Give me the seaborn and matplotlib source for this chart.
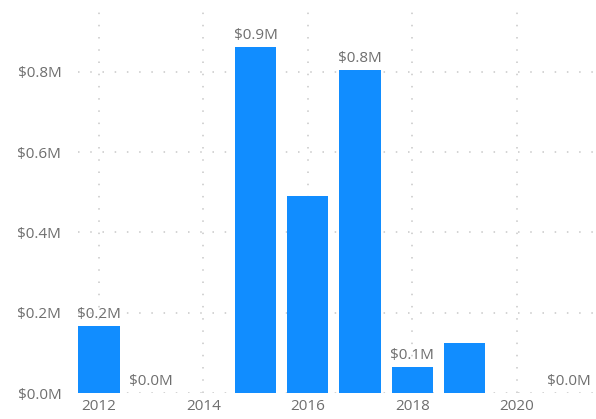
import matplotlib
matplotlib.use("Agg")
import matplotlib.pyplot as plt
import seaborn as sns
import pandas as pd

years = [2012, 2013, 2015, 2016, 2017, 2018, 2019, 2021]
values = [0.167, 0.0, 0.862, 0.491, 0.804, 0.065, 0.125, 0.0]  # $M
labels = ["$0.2M", "$0.0M", "$0.9M", None, "$0.8M", "$0.1M", None, "$0.0M"]
yticks = [0.0, 0.2, 0.4, 0.6, 0.8]
ytick_labels = ["$0.0M", "$0.2M", "$0.4M", "$0.6M", "$0.8M"]
xticks = [2012, 2014, 2016, 2018, 2020]

sns.set_theme(style="white")
plt.rcParams['font.family'] = ['Open Sans', 'DejaVu Sans']

df = pd.DataFrame({"year": years, "value": values})

fig = plt.figure(figsize=(5.96, 4.19), dpi=100)
ax = fig.add_axes([78/596, 1 - 393/419, (596 - 78)/596, (393 - 10)/419])

sns.barplot(data=df, x="year", y="value", native_scale=True, width=0.79,
            color="#118DFF", saturation=1, ax=ax, zorder=3, linewidth=0)

ax.set_xlim(2011.6, 2021.52)
ax.set_ylim(0, 0.954)
ax.set_xticks(xticks)
ax.set_xticklabels([str(x) for x in xticks])
ax.set_yticks(yticks)
ax.set_yticklabels(ytick_labels)
ax.tick_params(axis="both", colors="#6e6e6e", labelsize=11, length=0)
ax.tick_params(axis="y", pad=12)
ax.tick_params(axis="x", pad=4)
ax.set_xlabel("")
ax.set_ylabel("")
for s in ax.spines.values():
    s.set_visible(False)
ax.grid(True, axis="both", linestyle=(0, (1, 7)), color="#c8c8c8", linewidth=1.1, zorder=0)
ax.set_axisbelow(True)

for yr, v, lab in zip(years, values, labels):
    if lab:
        ax.annotate(lab, (yr, v), xytext=(0, 3), textcoords="offset points",
                    ha="center", va="bottom", color="#6e6e6e", fontsize=11)

fig.savefig("out.png", dpi=100)
